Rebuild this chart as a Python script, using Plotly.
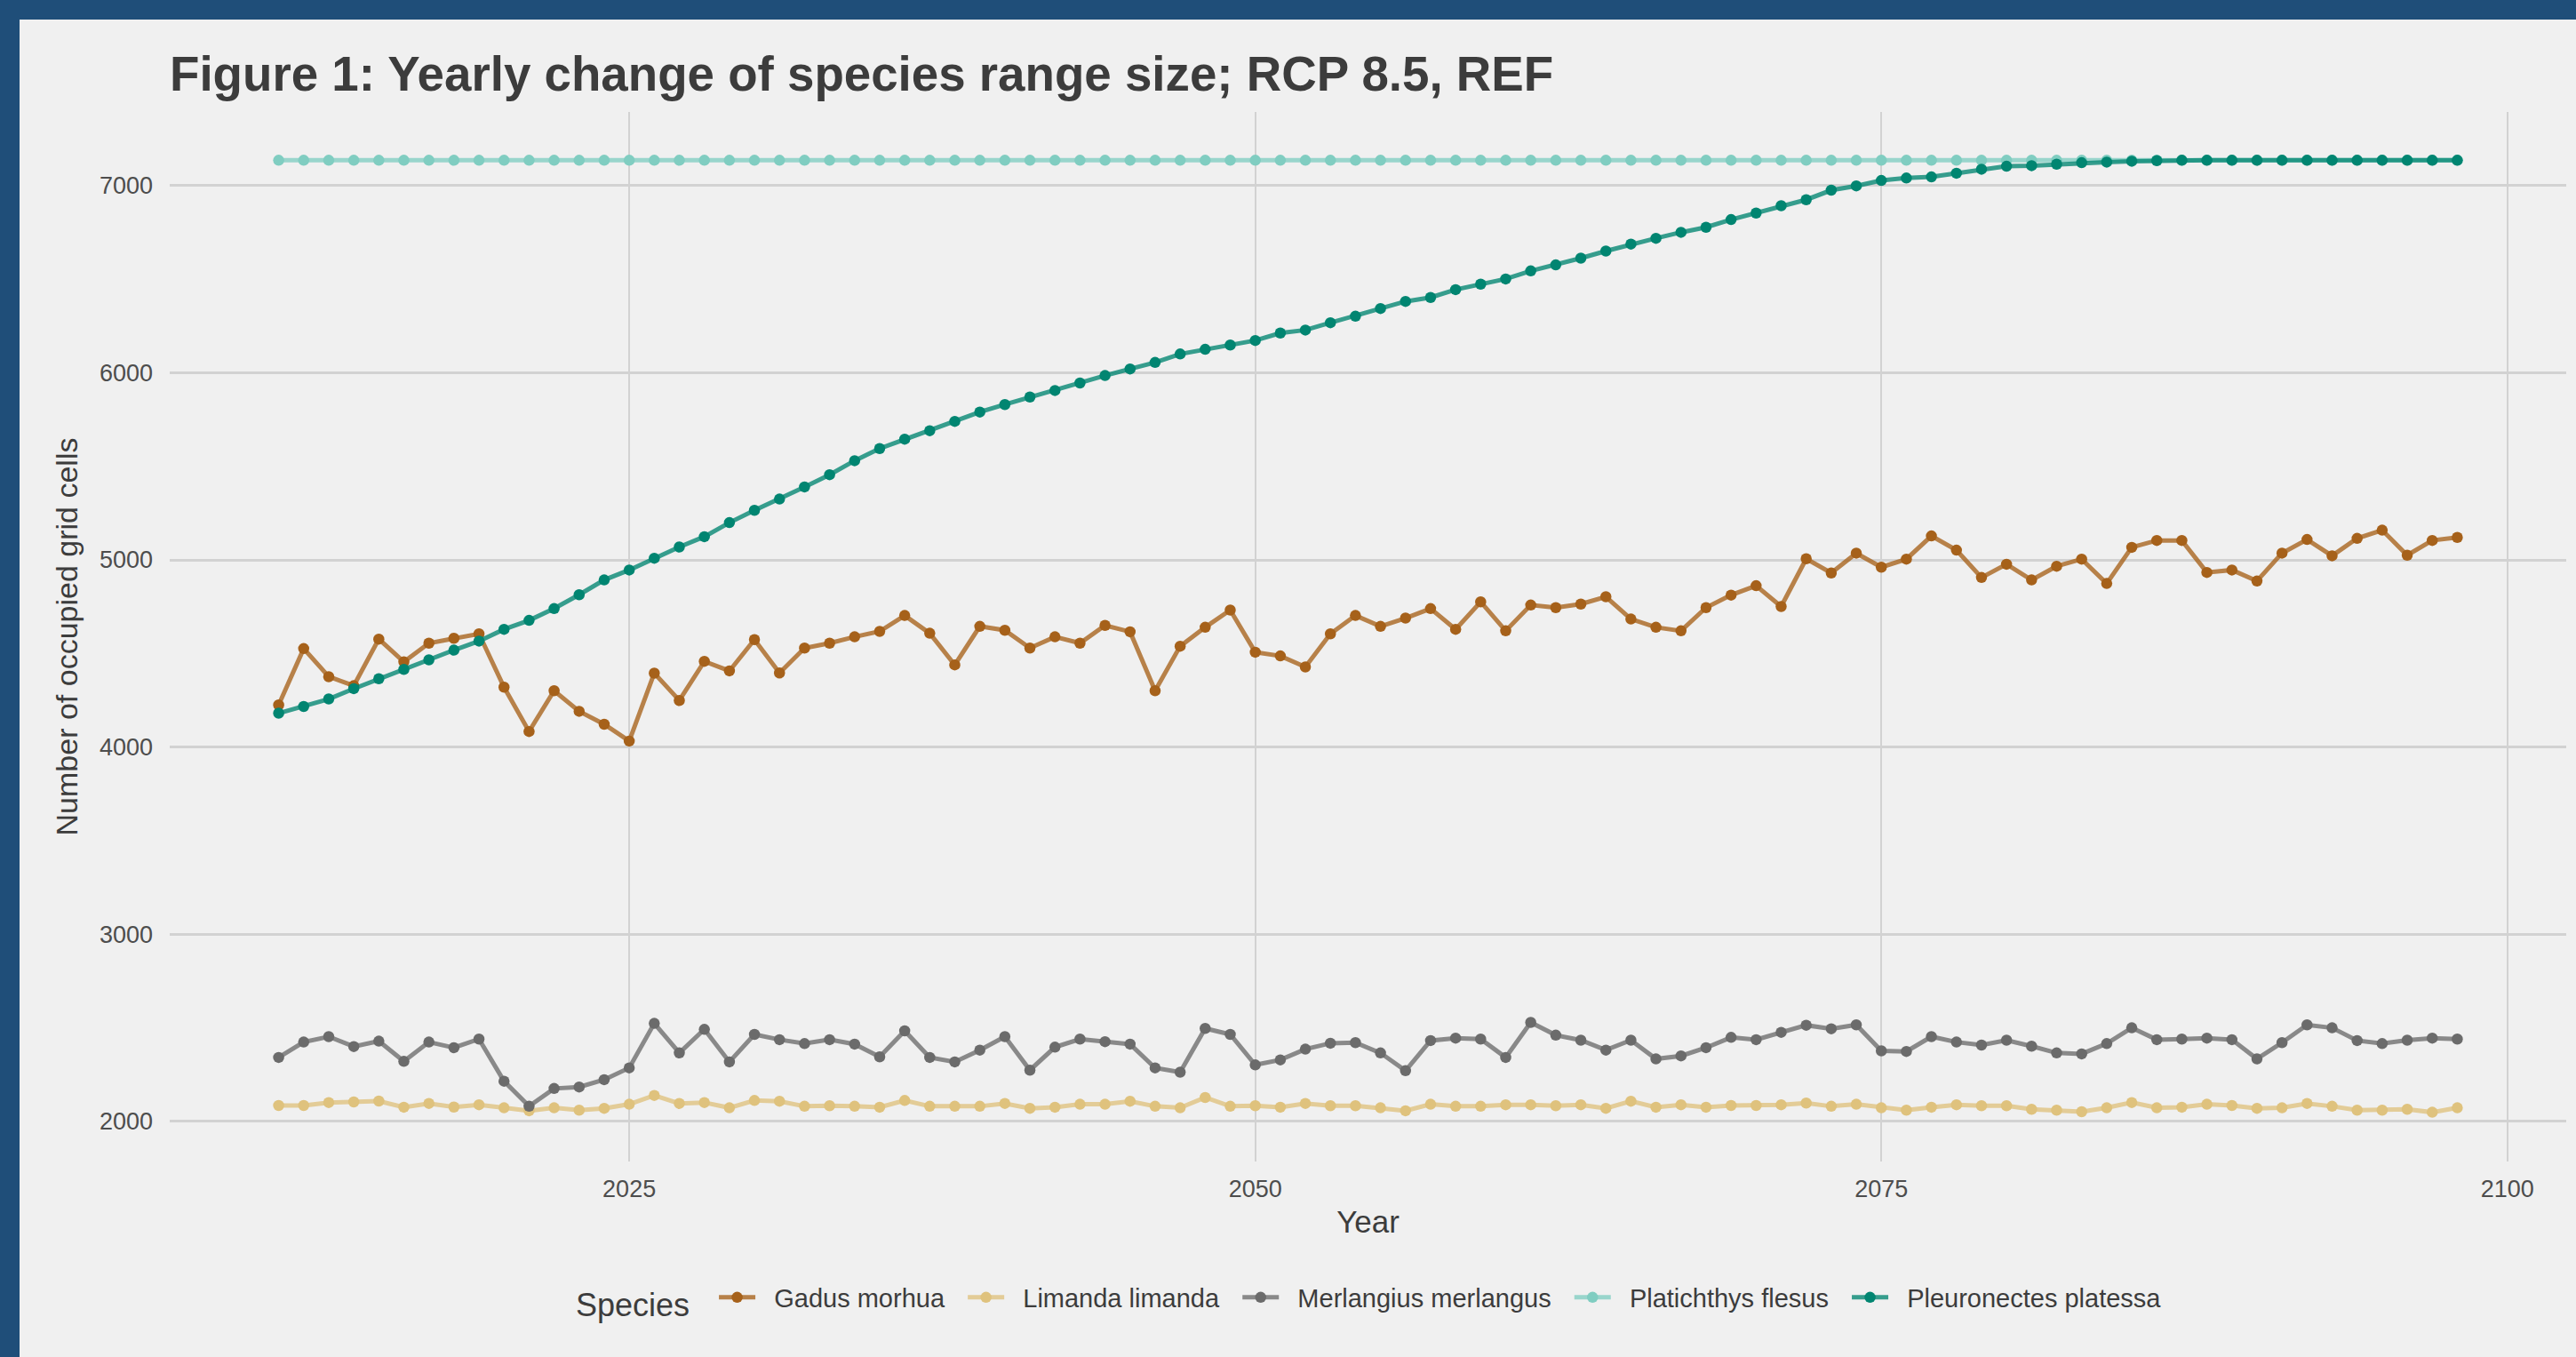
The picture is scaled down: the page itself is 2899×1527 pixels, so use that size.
import plotly.graph_objects as go

years = list(range(2011, 2099))

gadus_morhua = [
    4225, 4526, 4376, 4328, 4577, 4455, 4555, 4581, 4605, 4320,
    4083, 4301, 4191, 4122, 4032, 4395, 4249, 4458, 4407, 4574,
    4396, 4529, 4555, 4589, 4618, 4703, 4608, 4439, 4645, 4624,
    4529, 4589, 4555, 4650, 4616, 4301, 4539, 4640, 4732, 4507,
    4487, 4428, 4605, 4703, 4645, 4689, 4740, 4629, 4776, 4621,
    4759, 4745, 4764, 4803, 4684, 4640, 4621, 4745, 4812, 4862,
    4751, 5006, 4930, 5036, 4961, 5004, 5128, 5052, 4906, 4977,
    4893, 4966, 5004, 4874, 5067, 5104, 5104, 4933, 4946, 4887,
    5036, 5109, 5022, 5115, 5159, 5025, 5104, 5120,
]

limanda_limanda = [
    2085, 2085, 2101, 2104, 2109, 2076, 2096, 2077, 2089, 2073,
    2057, 2073, 2060, 2070, 2092, 2139, 2096, 2101, 2073, 2112,
    2108, 2081, 2084, 2081, 2076, 2112, 2081, 2081, 2081, 2096,
    2070, 2076, 2092, 2092, 2108, 2081, 2073, 2128, 2081, 2084,
    2076, 2096, 2084, 2084, 2073, 2057, 2092, 2081, 2081, 2089,
    2089, 2084, 2089, 2070, 2108, 2076, 2089, 2076, 2085, 2085,
    2089, 2098, 2081, 2092, 2073, 2060, 2076, 2089, 2084, 2084,
    2065, 2060, 2052, 2073, 2101, 2073, 2076, 2092, 2085, 2070,
    2073, 2096, 2081, 2060, 2060, 2065, 2049, 2073,
]

merlangius_merlangus = [
    2342, 2424, 2453, 2400, 2429, 2321, 2424, 2394, 2440, 2215,
    2081, 2176, 2184, 2223, 2286, 2524, 2366, 2492, 2318, 2465,
    2437, 2416, 2437, 2413, 2345, 2484, 2342, 2318, 2381, 2453,
    2274, 2397, 2440, 2426, 2413, 2286, 2263, 2497, 2465, 2302,
    2329, 2386, 2418, 2421, 2366, 2271, 2432, 2445, 2440, 2342,
    2529, 2461, 2434, 2381, 2434, 2334, 2350, 2394, 2449, 2437,
    2476, 2514, 2495, 2516, 2377, 2374, 2453, 2424, 2408, 2434,
    2402, 2366, 2361, 2416, 2500, 2437, 2440, 2445, 2437, 2334,
    2421, 2516, 2500, 2432, 2416, 2434, 2445, 2440,
]

platichthys_flesus = [
    7135, 7135, 7135, 7135, 7135, 7135, 7135, 7135, 7135, 7135,
    7135, 7135, 7135, 7135, 7135, 7135, 7135, 7135, 7135, 7135,
    7135, 7135, 7135, 7135, 7135, 7135, 7135, 7135, 7135, 7135,
    7135, 7135, 7135, 7135, 7135, 7135, 7135, 7135, 7135, 7135,
    7135, 7135, 7135, 7135, 7135, 7135, 7135, 7135, 7135, 7135,
    7135, 7135, 7135, 7135, 7135, 7135, 7135, 7135, 7135, 7135,
    7135, 7135, 7135, 7135, 7135, 7135, 7135, 7135, 7135, 7135,
    7135, 7135, 7135, 7135, 7135, 7135, 7135, 7135, 7135, 7135,
    7135, 7135, 7135, 7135, 7135, 7135, 7135, 7135,
]

pleuronectes_platessa = [
    4181, 4217, 4257, 4312, 4365, 4415, 4466, 4518, 4566, 4629,
    4677, 4740, 4814, 4893, 4946, 5009, 5069, 5124, 5199, 5265,
    5325, 5390, 5455, 5530, 5595, 5645, 5690, 5740, 5790, 5830,
    5870, 5905, 5945, 5985, 6020, 6055, 6100, 6125, 6148, 6172,
    6212, 6228, 6267, 6302, 6343, 6381, 6402, 6444, 6473, 6501,
    6544, 6576, 6612, 6650, 6687, 6718, 6750, 6777, 6818, 6853,
    6892, 6924, 6975, 6998, 7027, 7040, 7046, 7066, 7087, 7103,
    7106, 7114, 7122, 7125, 7130, 7133, 7135, 7135, 7135, 7135,
    7135, 7135, 7135, 7135, 7135, 7135, 7135, 7135,
]

species_names = ["Gadus morhua", "Limanda limanda", "Merlangius merlangus",
                 "Platichthys flesus", "Pleuronectes platessa"]
species_values = [gadus_morhua, limanda_limanda, merlangius_merlangus,
                  platichthys_flesus, pleuronectes_platessa]
point_colors = ["#A6611A", "#DFC27D", "#6B6B6B", "#80CDC1", "#018571"]
line_colors = ["rgba(166,97,26,0.78)", "rgba(223,194,125,0.78)", "rgba(107,107,107,0.78)",
               "rgba(128,205,193,0.78)", "rgba(1,133,113,0.78)"]

y_ticks = [2000, 3000, 4000, 5000, 6000, 7000]
x_ticks = [2025, 2050, 2075, 2100]

W, H = 2899, 1527
ML, MR, MT, MB = 191, 11, 126, 220
PW, PH = W - ML - MR, H - MT - MB

FONT = "Liberation Sans, Arial, Helvetica, sans-serif"
TEXT = "#3C3C3C"
BG = "#F0F0F0"
GRID = "#D2D2D2"
BLUE = "#1F4E79"
NB = "\u00a0"

fig = go.Figure()
for name, vals, pc, lc in zip(species_names, species_values, point_colors, line_colors):
    fig.add_trace(go.Scatter(
        x=years, y=vals, name=NB * 2 + name + NB * 2, mode="lines+markers",
        line=dict(color=lc, width=5),
        marker=dict(color=pc, size=12.5, line=dict(width=0)),
    ))

# blue frame at left and top (in paper coords computed from pixel sizes)
band = 22
fig.add_shape(type="rect", xref="paper", yref="paper",
              x0=-ML / PW, x1=(band - ML) / PW, y0=-MB / PH, y1=(PH + MT) / PH,
              fillcolor=BLUE, line=dict(width=0), layer="below")
fig.add_shape(type="rect", xref="paper", yref="paper",
              x0=-ML / PW, x1=(PW + MR) / PW, y0=(PH + MT - band) / PH, y1=(PH + MT) / PH,
              fillcolor=BLUE, line=dict(width=0), layer="below")

fig.update_layout(
    width=W, height=H,
    margin=dict(l=ML, r=MR, t=MT, b=MB, pad=0),
    paper_bgcolor=BG, plot_bgcolor=BG,
    font=dict(family=FONT, color=TEXT),
    title=dict(
        text="<b>Figure 1: Yearly change of species range size; RCP 8.5, REF</b>",
        x=0, xref="paper", xanchor="left",
        y=1 - 83 / H, yref="container", yanchor="middle",
        font=dict(size=54.7, color=TEXT, family=FONT),
    ),
    xaxis=dict(
        range=[2006.65, 2102.35], tickvals=x_ticks,
        showgrid=True, gridcolor=GRID, gridwidth=2,
        zeroline=False, showline=False, ticks="",
        tickfont=dict(size=27, color="#4D4D4D"),
        ticklabelstandoff=12,
        title=dict(text="Year", font=dict(size=35, color=TEXT), standoff=10),
    ),
    yaxis=dict(
        range=[1786, 7393], tickvals=y_ticks,
        showgrid=True, gridcolor=GRID, gridwidth=3,
        zeroline=False, showline=False, ticks="",
        tickfont=dict(size=27, color="#4D4D4D"),
        ticklabelstandoff=18,
        title=dict(text="Number of occupied grid cells", font=dict(size=34, color=TEXT), standoff=14),
    ),
    legend=dict(
        orientation="h", x=0.5 + 10 / PW, xanchor="center", y=-(1463 - 1307) / PH, yanchor="middle",
        bgcolor="rgba(0,0,0,0)", itemwidth=41,
        title=dict(text="Species" + NB * 2, side="left", font=dict(size=36, color=TEXT)),
        font=dict(size=29, color=TEXT),
    ),
    showlegend=True,
)

fig.write_html(
    "out.html",
    config={"displayModeBar": False},
    post_script="document.body.style.margin='0';document.body.style.overflow='hidden';"
                "document.documentElement.style.overflow='hidden';",
)
